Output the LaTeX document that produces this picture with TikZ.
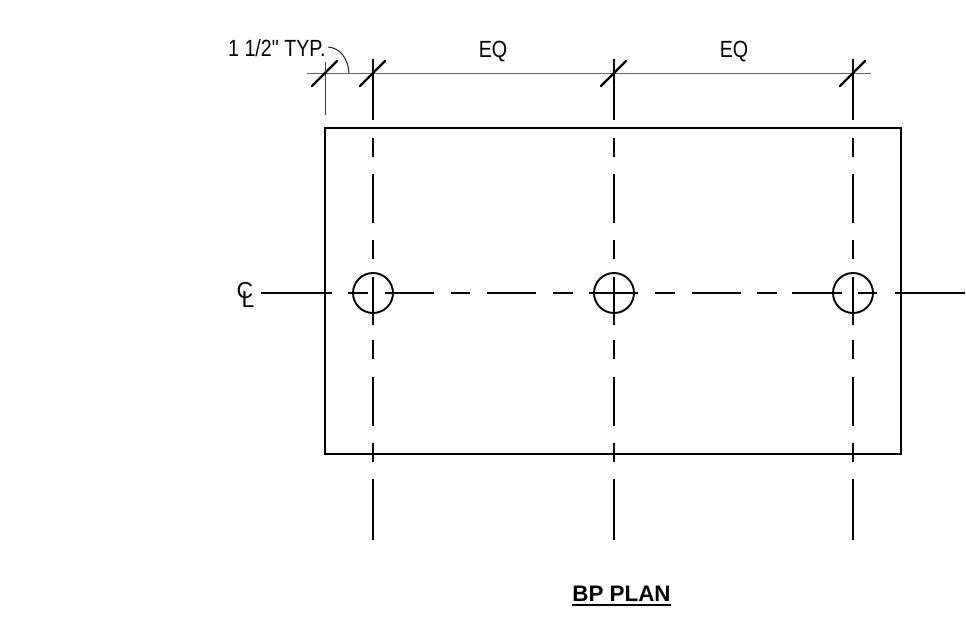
\documentclass[tikz,border=0pt]{standalone}
\usepackage{fontspec}
\newfontfamily\dimf{Liberation Sans}[Ligatures=ResetAll]
\tikzset{
  plate/.style={line width=2.1pt,black},
  cline/.style={line width=2pt,black},
  dimline/.style={line width=1pt,black!60},
  extline/.style={line width=1pt,black!75},
  tickmark/.style={line width=2.4pt,black,line cap=round},
  lbl/.style={font=\dimf\fontsize{23.4}{26}\selectfont,inner sep=0pt,xscale=.84,transform shape,text=black},
  clbl/.style={font=\dimf\fontsize{23}{26}\selectfont,inner sep=0pt,text=black}
}
\begin{document}
\begin{tikzpicture}[x=1pt,y=-1pt]
\useasboundingbox (0,0) rectangle (966,623);
\fill[white] (0,0) rectangle (966,623);
% plate
\draw[plate] (325,128) rectangle (901,454);
% dimension line and extension
\draw[dimline] (307,73.4) -- (871,73.4);
\draw[extline] (325,62) -- (325,115);
% leader
\coordinate (ldA) at (328,47);
\coordinate (ldB) at (349,73);
\draw[line width=1pt,black!85] (ldA) .. controls (340,48) and (348,58) .. (ldB);
% vertical centre lines
\foreach \x in {373,614,853}{
  \draw[cline] (\x,59) -- (\x,120);
  \foreach \a/\b in {138/157,174/223,240/259,277/325,340/359,377/426,443/462,479/540}
    \draw[cline] (\x,\a) -- (\x,\b);
  \draw[tickmark] (\x-13,86) -- (\x+12,61);
  \draw[line width=1.9pt,black] (\x,293) circle[radius=20];
}
\draw[tickmark] (312,86) -- (337,61);
% horizontal centre line
\foreach \a/\b in {261/332,348/368,385/434,451/470,487/536,553/573,589/638,655/675,692/741,757/777,792/842,858/877,895/965}
  \draw[cline] (\a,293) -- (\b,293);
% texts
\node[lbl,anchor=west] (typ) at (228,48) {1 1/2" TYP.};
\node[lbl] (eqa) at (493,52) {EQ};
\node[lbl] (eqb) at (734,52) {EQ};
\node[clbl] (clc) at (245,291) {C};
\node[clbl] (cll) at (248,299.5) {L};
\node[font=\dimf\fontsize{22.4}{26}\bfseries\selectfont,inner sep=0pt] (title) at (621.5,594) {BP PLAN};
\draw[line width=2pt] (572,604.5) -- (671,604.5);
\end{tikzpicture}
\end{document}
